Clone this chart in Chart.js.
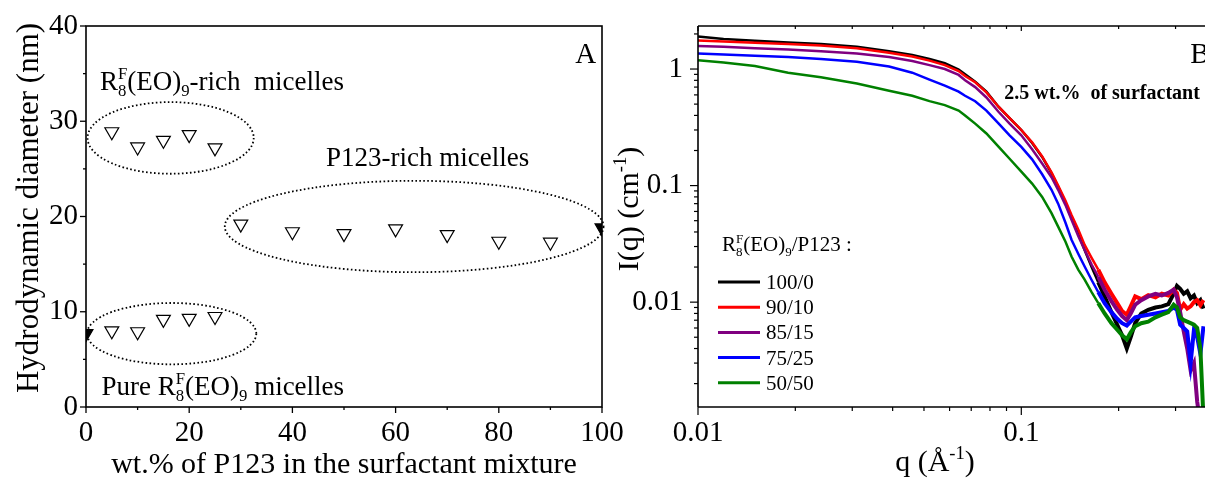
<!DOCTYPE html>
<html lang="en">

<head>
    <meta charset="UTF-8">
    <title>Micelle size and SANS curves</title>
    <style>
        body {
            margin: 0;
            width: 1205px;
            height: 480px;
            position: relative;
            overflow: hidden;
            background-color: #fff;
        }

        .panel {
            position: absolute;
            top: 0;
            height: 480px;
        }

        #panelA { left: 0; width: 640px; }
        #panelB { left: 605px; width: 600px; }

        canvas { display: block; }
    </style>
</head>

<body>
    <div class="panel" id="panelA"><canvas id="dlsChart" width="640" height="480"></canvas></div>
    <div class="panel" id="panelB"><canvas id="sansChart" width="600" height="480"></canvas></div>

    <script src="https://cdn.jsdelivr.net/npm/chart.js"></script>
    <script>
        // ---- panel A: hydrodynamic diameter vs wt.% of P123 ----
        const wtRichRF = [5, 10, 15, 20, 25];
        const dRichRF = [28.9, 27.3, 28.0, 28.6, 27.2];
        const wtPureRF = [5, 10, 15, 20, 25];
        const dPureRF = [8.0, 7.9, 9.2, 9.3, 9.5];
        const wtRichP123 = [30, 40, 50, 60, 70, 80, 90];
        const dRichP123 = [19.2, 18.4, 18.2, 18.7, 18.1, 17.4, 17.3];
        const wtPure = [0, 100];
        const dPure = [7.7, 18.8];
        const wtTicks = [0, 20, 40, 60, 80, 100];
        const dTicks = [0, 10, 20, 30, 40];
        // dotted rings round each population: [centre wt, centre d, half width, half height]
        const groupRings = [[16.4, 28.25, 16.1, 3.76], [63.6, 18.95, 36.7, 4.8], [16.6, 7.7, 16.4, 3.22]];

        // ---- panel B: SANS intensity I(q) ----
        const blendLabels = ['100/0', '90/10', '85/15', '75/25', '50/50'];
        const q = [0.01, 0.012, 0.015, 0.019, 0.024, 0.031, 0.039, 0.046, 0.052, 0.058,
            0.064, 0.067, 0.072, 0.078, 0.085, 0.092, 0.1, 0.108, 0.116, 0.124,
            0.13, 0.137, 0.143, 0.15, 0.157, 0.165, 0.173, 0.181, 0.19, 0.198,
            0.205, 0.212, 0.218, 0.225, 0.235, 0.247, 0.26, 0.272, 0.285, 0.296,
            0.303, 0.31, 0.318, 0.326, 0.334, 0.342, 0.35, 0.358, 0.366];
        const i100_0 = [1.90, 1.81, 1.75, 1.69, 1.64, 1.55, 1.42, 1.32, 1.22, 1.12,
            0.99, 0.90, 0.78, 0.64, 0.475, 0.38, 0.30, 0.232, 0.176, 0.128,
            0.098, 0.071, 0.053, 0.039, 0.028, 0.020, 0.0148, 0.0112, 0.0082, 0.0064,
            0.0052, 0.0040, 0.0050, 0.0066, 0.0080, 0.0086, 0.0090, 0.0092, 0.0096, 0.0118,
            0.0138, 0.0130, 0.0118, 0.0124, 0.0108, 0.0114, 0.0098, 0.0104, 0.0088];
        const i90_10 = [1.76, 1.72, 1.68, 1.64, 1.59, 1.51, 1.38, 1.28, 1.18, 1.08,
            0.96, 0.87, 0.77, 0.63, 0.475, 0.38, 0.30, 0.235, 0.178, 0.13,
            0.10, 0.074, 0.056, 0.042, 0.031, 0.024, 0.019, 0.0148, 0.0118, 0.0098,
            0.0084, 0.0078, 0.0092, 0.0112, 0.0106, 0.0115, 0.0110, 0.0118, 0.0114, 0.0128,
            0.0120, 0.0086, 0.0096, 0.0088, 0.0092, 0.0100, 0.0104, 0.0094, 0.0104];
        const i85_15 = [1.58, 1.55, 1.51, 1.47, 1.42, 1.36, 1.27, 1.17, 1.08, 1.00,
            0.89, 0.80, 0.70, 0.57, 0.43, 0.34, 0.27, 0.205, 0.155, 0.118,
            0.092, 0.068, 0.0508, 0.037, 0.028, 0.021, 0.0165, 0.0128, 0.0102, 0.0086,
            0.0076, 0.0070, 0.0080, 0.0095, 0.0104, 0.0112, 0.0118, 0.0114, 0.0120, 0.0128,
            0.0110, 0.0082, 0.0056, 0.0040, 0.0026, 0.0030, 0.0014, 0.0009, null];
        const i75_25 = [1.36, 1.33, 1.30, 1.27, 1.22, 1.155, 1.05, 0.93, 0.81, 0.72,
            0.64, 0.59, 0.53, 0.44, 0.342, 0.27, 0.215, 0.168, 0.125, 0.092,
            0.070, 0.048, 0.0343, 0.026, 0.0202, 0.0155, 0.0122, 0.0098, 0.0082, 0.0072,
            0.0066, 0.0063, 0.0068, 0.0074, 0.0076, 0.0078, 0.0080, 0.0082, 0.0084, 0.0090,
            0.0086, 0.0064, 0.0060, 0.0056, 0.0030, 0.0058, 0.0050, 0.0036, 0.0062];
        const i50_50 = [1.19, 1.14, 1.06, 0.93, 0.85, 0.75, 0.65, 0.59, 0.53, 0.49,
            0.44, 0.40, 0.34, 0.28, 0.216, 0.17, 0.132, 0.104, 0.080, 0.058,
            0.0445, 0.033, 0.0246, 0.019, 0.0156, 0.0122, 0.0098, 0.0080, 0.0066, 0.0058,
            0.0052, 0.0048, 0.0055, 0.0062, 0.0066, 0.0068, 0.0074, 0.0078, 0.0082, 0.0095,
            0.0090, 0.0074, 0.0070, 0.0068, 0.0066, 0.0064, 0.0060, 0.0040, 0.0010];
        const qMajorTicks = [0.01, 0.1];
        const iMajorTicks = [0.01, 0.1, 1];

        const serif = '"Liberation Serif", "Times New Roman", serif';
        const fontOf = (size, weight) => `${weight ? weight + ' ' : ''}${size}px ${serif}`;

        // text with sub/superscripts: parts are strings or {sup, sub}
        function richWidth(ctx, parts, size, weight) {
            let w = 0;
            for (const p of parts) {
                if (typeof p === 'string') {
                    ctx.font = fontOf(size, weight);
                    w += ctx.measureText(p).width;
                } else {
                    ctx.font = fontOf(size * 0.62, weight);
                    w += Math.max(p.sup ? ctx.measureText(p.sup).width : 0, p.sub ? ctx.measureText(p.sub).width : 0);
                }
            }
            return w;
        }

        function drawRich(ctx, parts, x, y, size, weight) {
            ctx.save();
            ctx.fillStyle = '#000';
            ctx.textAlign = 'left';
            ctx.textBaseline = 'alphabetic';
            for (const p of parts) {
                if (typeof p === 'string') {
                    ctx.font = fontOf(size, weight);
                    ctx.fillText(p, x, y);
                    x += ctx.measureText(p).width;
                } else {
                    ctx.font = fontOf(size * 0.62, weight);
                    let w = 0;
                    if (p.sup) {
                        ctx.fillText(p.sup, x, y - size * 0.4);
                        w = ctx.measureText(p.sup).width;
                    }
                    if (p.sub) {
                        ctx.fillText(p.sub, x, y + size * 0.22);
                        w = Math.max(w, ctx.measureText(p.sub).width);
                    }
                    x += w;
                }
            }
            ctx.restore();
        }

        function drawRotated(ctx, parts, cx, cy, size) {
            const w = richWidth(ctx, parts, size);
            ctx.save();
            ctx.translate(cx, cy);
            ctx.rotate(-Math.PI / 2);
            drawRich(ctx, parts, -w / 2, size * 0.33, size);
            ctx.restore();
        }

        function tickLine(ctx, x1, y1, x2, y2) {
            ctx.beginPath();
            ctx.moveTo(x1, y1);
            ctx.lineTo(x2, y2);
            ctx.stroke();
        }

        function logMinors(min, max) {
            const out = [];
            for (let d = Math.floor(Math.log10(min)); d <= Math.ceil(Math.log10(max)); d++) {
                for (let k = 2; k <= 9; k++) {
                    const v = k * Math.pow(10, d);
                    if (v > min && v < max) out.push(v);
                }
            }
            return out;
        }

        // keep the plot box exactly where the layout padding puts it
        function fixBox(s, size) {
            if (s.isHorizontal()) s.height = size; else s.width = size;
            s.paddingTop = 0;
            s.paddingBottom = 0;
        }

        const pts = (xs, ys) => xs.map((x, i) => ({ x: x, y: ys[i] }));

        const tickFont = { family: serif, size: 29 };

        // ---------------- panel A ----------------
        const notesA = [
            { parts: ['R', { sup: 'F', sub: '8' }, '(EO)', { sub: '9' }, '-rich  micelles'], x: 2.7, y: 33.3, size: 27 },
            { parts: ['P123-rich micelles'], x: 46.5, y: 25.3, size: 27 },
            { parts: ['Pure R', { sup: 'F', sub: '8' }, '(EO)', { sub: '9' }, ' micelles'], x: 3.0, y: 1.25, size: 27 },
            { parts: ['A'], x: 94.8, y: 36.1, size: 29 }
        ];

        const panelADecor = {
            id: 'panelADecor',
            beforeDatasetsDraw(chart) {
                const { ctx, scales: { x, y } } = chart;
                ctx.save();
                ctx.strokeStyle = '#000';
                ctx.lineWidth = 1.8;
                ctx.setLineDash([1.6, 2.4]);
                groupRings.forEach(([cxv, cyv, rxv, ryv]) => {
                    const cx = x.getPixelForValue(cxv);
                    const cy = y.getPixelForValue(cyv);
                    const rx = x.getPixelForValue(cxv + rxv) - cx;
                    const ry = cy - y.getPixelForValue(cyv + ryv);
                    ctx.beginPath();
                    ctx.ellipse(cx, cy, rx, ry, 0, 0, Math.PI * 2);
                    ctx.stroke();
                });
                ctx.restore();
            },
            afterDatasetsDraw(chart) {
                const { ctx, chartArea: a, scales: { x, y } } = chart;
                ctx.save();
                ctx.strokeStyle = '#000';
                ctx.lineWidth = 1.6;
                ctx.strokeRect(a.left, a.top, a.right - a.left, a.bottom - a.top);
                ctx.lineWidth = 1.3;
                wtTicks.forEach((v, i) => {
                    const px = x.getPixelForValue(v);
                    tickLine(ctx, px, a.bottom, px, a.bottom + 6);
                    if (i > 0) {
                        const mx = x.getPixelForValue((v + wtTicks[i - 1]) / 2);
                        tickLine(ctx, mx, a.bottom, mx, a.bottom + 3);
                    }
                });
                dTicks.forEach((v, i) => {
                    const py = y.getPixelForValue(v);
                    tickLine(ctx, a.left - 6, py, a.left, py);
                    if (i > 0) {
                        const my = y.getPixelForValue((v + dTicks[i - 1]) / 2);
                        tickLine(ctx, a.left - 3, my, a.left, my);
                    }
                });
                ctx.restore();

                notesA.forEach(n => drawRich(ctx, n.parts, x.getPixelForValue(n.x), y.getPixelForValue(n.y), n.size));

                drawRotated(ctx, ['Hydrodynamic diameter (nm)'], 28, 208, 31);
                const xt = ['wt.% of P123 in the surfactant mixture'];
                drawRich(ctx, xt, (a.left + a.right) / 2 - richWidth(ctx, xt, 30) / 2, 473, 30);
            }
        };

        const openTriangle = {
            pointStyle: 'triangle',
            rotation: 180,
            pointRadius: 8,
            pointHoverRadius: 8,
            borderWidth: 1.2,
            borderColor: '#000',
            backgroundColor: '#fff'
        };

        new Chart(document.getElementById('dlsChart'), {
            type: 'scatter',
            data: {
                datasets: [
                    { ...openTriangle, label: 'RF8(EO)9-rich', data: pts(wtRichRF, dRichRF) },
                    { ...openTriangle, label: 'Pure RF8(EO)9', data: pts(wtPureRF, dPureRF) },
                    { ...openTriangle, label: 'P123-rich', data: pts(wtRichP123, dRichP123) },
                    { ...openTriangle, label: 'pure', data: pts(wtPure, dPure), backgroundColor: '#000', clip: 0 }
                ]
            },
            options: {
                responsive: false,
                animation: false,
                events: [],
                layout: { padding: { top: 26, right: 38, left: 0, bottom: 0 } },
                plugins: { legend: { display: false }, tooltip: { enabled: false } },
                scales: {
                    x: {
                        type: 'linear',
                        min: 0,
                        max: 100,
                        grid: { display: false, drawTicks: false },
                        border: { display: false },
                        afterBuildTicks: s => { s.ticks = wtTicks.map(v => ({ value: v })); },
                        afterFit: s => fixBox(s, 73),
                        ticks: { font: tickFont, color: '#000', padding: 9, maxRotation: 0, autoSkip: false }
                    },
                    y: {
                        type: 'linear',
                        min: 0,
                        max: 40,
                        grid: { display: false, drawTicks: false },
                        border: { display: false },
                        afterBuildTicks: s => { s.ticks = dTicks.map(v => ({ value: v })); },
                        afterFit: s => fixBox(s, 86),
                        ticks: { font: tickFont, color: '#000', padding: 8 }
                    }
                }
            },
            plugins: [panelADecor]
        });

        // ---------------- panel B ----------------
        const seriesB = [i100_0, i90_10, i85_15, i75_25, i50_50];
        const coloursB = ['#000000', '#ff0000', '#800080', '#0000ff', '#008000'];

        const panelBDecor = {
            id: 'panelBDecor',
            afterDatasetsDraw(chart) {
                const { ctx, chartArea: a, scales: { x, y } } = chart;
                ctx.save();
                ctx.strokeStyle = '#000';
                ctx.lineWidth = 1.6;
                tickLine(ctx, a.left, a.top, a.right, a.top);
                tickLine(ctx, a.left, a.top, a.left, a.bottom);
                tickLine(ctx, a.left, a.bottom, a.right, a.bottom);
                ctx.lineWidth = 1.2;
                qMajorTicks.forEach(v => {
                    const px = x.getPixelForValue(v);
                    tickLine(ctx, px, a.bottom, px, a.bottom + 8);
                    tickLine(ctx, px, a.top, px, a.top + 5);
                });
                logMinors(x.min, x.max).forEach(v => {
                    const px = x.getPixelForValue(v);
                    tickLine(ctx, px, a.bottom, px, a.bottom + 4);
                    tickLine(ctx, px, a.top, px, a.top + 3);
                });
                iMajorTicks.forEach(v => {
                    const py = y.getPixelForValue(v);
                    tickLine(ctx, a.left - 8, py, a.left, py);
                });
                logMinors(y.min, y.max).forEach(v => {
                    const py = y.getPixelForValue(v);
                    tickLine(ctx, a.left - 4, py, a.left, py);
                });
                ctx.restore();

                drawRich(ctx, ['B'], x.getPixelForValue(0.333), y.getPixelForValue(1.126), 29);
                drawRich(ctx, ['2.5 wt.%  of surfactant'], x.getPixelForValue(0.0886), y.getPixelForValue(0.553), 20, 'bold');

                // legend block
                const lx = a.left + 20;
                drawRich(ctx, ['R', { sup: 'F', sub: '8' }, '(EO)', { sub: '9' }, '/P123 :'], lx + 4, 251, 21);
                ctx.save();
                ctx.lineWidth = 3;
                chart.data.datasets.forEach((ds, k) => {
                    const ry = 282 + k * 25.2;
                    ctx.strokeStyle = ds.borderColor;
                    tickLine(ctx, lx, ry, lx + 42, ry);
                    drawRich(ctx, [ds.label], lx + 48, ry + 7, 21);
                });
                ctx.restore();

                drawRotated(ctx, ['I(q) (cm', { sup: '-1' }, ')'], 23, 209, 30);
                const xt = ['q (Å', { sup: '-1' }, ')'];
                drawRich(ctx, xt, 330 - richWidth(ctx, xt, 30) / 2, 471, 30);
            }
        };

        new Chart(document.getElementById('sansChart'), {
            type: 'line',
            data: {
                datasets: seriesB.map((ys, k) => ({
                    label: blendLabels[k],
                    data: pts(q, ys),
                    borderColor: coloursB[k],
                    backgroundColor: coloursB[k],
                    borderWidth: 2.5,
                    pointRadius: 0,
                    tension: 0,
                    clip: 0,
                    order: seriesB.length - k,
                    segment: { borderWidth: c => (c.p0.parsed.x > 0.165 ? 4 : 2.5) }
                }))
            },
            options: {
                responsive: false,
                animation: false,
                events: [],
                layout: { padding: { top: 26, right: 0, left: 0, bottom: 0 } },
                plugins: { legend: { display: false }, tooltip: { enabled: false } },
                scales: {
                    x: {
                        type: 'logarithmic',
                        min: 0.01,
                        max: 0.37,
                        grid: { display: false, drawTicks: false },
                        border: { display: false },
                        afterBuildTicks: s => { s.ticks = qMajorTicks.map(v => ({ value: v })); },
                        afterFit: s => fixBox(s, 73),
                        ticks: { font: tickFont, color: '#000', padding: 9, maxRotation: 0, autoSkip: false, callback: v => String(v) }
                    },
                    y: {
                        type: 'logarithmic',
                        min: 0.00126,
                        max: 2.34,
                        grid: { display: false, drawTicks: false },
                        border: { display: false },
                        afterBuildTicks: s => { s.ticks = iMajorTicks.map(v => ({ value: v })); },
                        afterFit: s => fixBox(s, 93),
                        ticks: { font: tickFont, color: '#000', padding: 15, callback: v => String(v) }
                    }
                }
            },
            plugins: [panelBDecor]
        });
    </script>
</body>

</html>
